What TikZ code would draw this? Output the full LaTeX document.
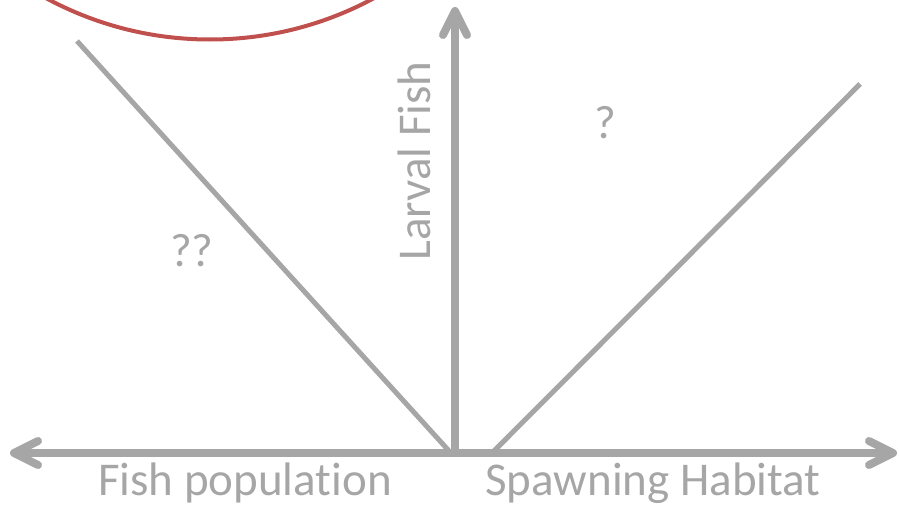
\documentclass[tikz,border=0pt]{standalone}
\usepackage{fontspec}
\setmainfont{Carlito}[Ligatures=NoCommon]
\usetikzlibrary{arrows.meta}
\definecolor{axisgray}{HTML}{A6A6A6}
\definecolor{ringred}{HTML}{C0504D}
\begin{document}
\begin{tikzpicture}[x=1pt,y=-1pt,
  axisline/.style={draw=axisgray,line width=8pt,line cap=round,
    -{Straight Barb[length=24pt,width=24pt,line cap=round,line join=round]}},
  diagline/.style={draw=axisgray,line width=5pt},
  lbl/.style={text=axisgray,font=\fontsize{47}{50}\selectfont,inner sep=0pt,anchor=base}]
\useasboundingbox (0,0) rectangle (900,506);
\begin{scope}
  \clip (0,0) rectangle (900,506);
  \draw[ringred,line width=4pt] (210,-305.5) circle[radius=345];
\end{scope}
\coordinate (o) at (455,453);
\coordinate (top) at (455,7);
\coordinate (left) at (10,453);
\coordinate (right) at (897,453);
\coordinate (bot) at (455,457);
\coordinate (la) at (77,41);
\coordinate (lb) at (450,452);
\coordinate (ra) at (493,452);
\coordinate (rb) at (860,84);
\draw[diagline] (la) -- (lb);
\draw[diagline] (ra) -- (rb);
\draw[axisline] (o) -- (left);
\draw[axisline] (o) -- (right);
\draw[axisline,line cap=butt] (bot) -- (top);
\node[lbl] (fp) at (245,495) {Fish populat\kern0pt ion};
\node[lbl] (sh) at (653,495) {Spawning Habitat};
\node[lbl,rotate=90] (lf) at (430,161) {Larval Fish};
\node[lbl] (q2) at (192,266) {??};
\node[lbl] (q1) at (605,138) {?};
\end{tikzpicture}
\end{document}
